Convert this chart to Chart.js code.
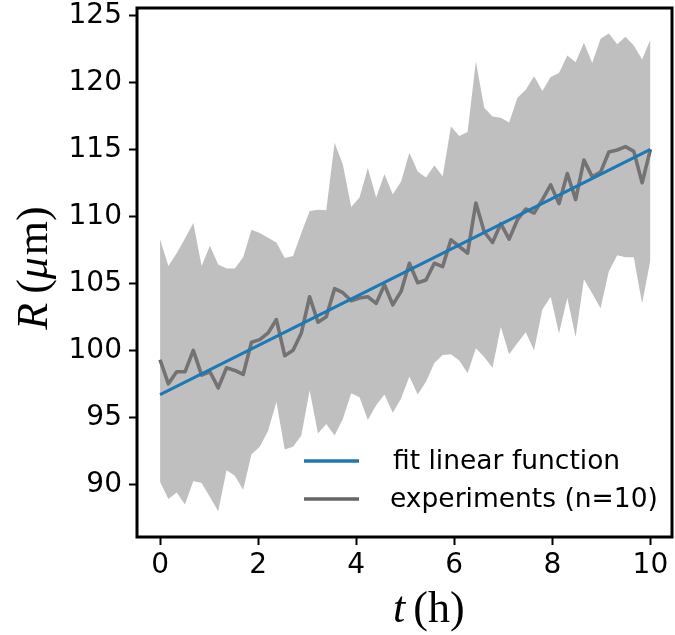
<!DOCTYPE html>
<html>
<head>
<meta charset="utf-8">
<script src="https://cdn.jsdelivr.net/npm/chart.js@4.4.1/dist/chart.umd.min.js"></script>
<style>
  html, body { margin: 0; padding: 0; background: #ffffff; }
  #wrap { width: 675px; height: 635px; }
</style>
</head>
<body>
<div id="wrap"><canvas id="c" width="675" height="635"></canvas></div>
<script>
// ---- data ----
const tTimes = [0, 0.1695, 0.339, 0.5085, 0.678, 0.8475, 1.0169, 1.1864, 1.3559, 1.5254,
  1.6949, 1.8644, 2.0339, 2.2034, 2.3729, 2.5424, 2.7119, 2.8814, 3.0508, 3.2203,
  3.3898, 3.5593, 3.7288, 3.8983, 4.0678, 4.2373, 4.4068, 4.5763, 4.7458, 4.9153,
  5.0847, 5.2542, 5.4237, 5.5932, 5.7627, 5.9322, 6.1017, 6.2712, 6.4407, 6.6102,
  6.7797, 6.9492, 7.1186, 7.2881, 7.4576, 7.6271, 7.7966, 7.9661, 8.1356, 8.3051,
  8.4746, 8.6441, 8.8136, 8.9831, 9.1525, 9.322, 9.4915, 9.661, 9.8305, 10];

const meanR = [99.3, 97.5, 98.4, 98.4, 100.0, 98.15, 98.4, 97.2, 98.7, 98.5,
  98.2, 100.6, 100.8, 101.3, 102.3, 99.6, 100.0, 101.3, 104.0, 102.1,
  102.5, 104.6, 104.3, 103.7, 103.9, 104.0, 103.5, 104.9, 103.4, 104.4,
  106.5, 105.05, 105.25, 106.5, 106.25, 108.25, 107.75, 107.25, 111.0, 108.85,
  108.05, 109.45, 108.3, 109.75, 110.55, 110.25, 111.25, 112.35, 110.95, 113.2,
  111.25, 114.2, 112.95, 113.3, 114.8, 114.95, 115.2, 114.85, 112.5, 115.0];

const upperR = [108.3, 106.3, 107.25, 108.35, 109.5, 106.3, 107.8, 106.4, 106.1, 106.1,
  106.95, 109.0, 108.75, 108.4, 108.05, 106.9, 107.05, 108.75, 110.4, 110.5,
  110.45, 115.5, 113.85, 110.7, 111.4, 113.6, 111.4, 113.15, 111.65, 112.6,
  114.75, 113.35, 112.9, 113.8, 113.0, 116.7, 116.0, 116.3, 121.55, 118.1,
  117.45, 117.35, 117.0, 118.85, 119.45, 120.45, 119.35, 120.4, 120.7, 122.0,
  121.5, 122.95, 121.45, 123.25, 123.65, 122.85, 123.4, 122.75, 121.7, 123.2];

const lowerR = [90.2, 88.9, 89.4, 88.5, 90.25, 90.1, 89.05, 88.0, 91.05, 90.65,
  89.6, 92.25, 92.8, 94.0, 96.15, 92.6, 92.8, 93.65, 97.0, 93.8,
  94.5, 93.65, 94.9, 96.8, 96.5, 94.8, 95.9, 96.7, 95.35, 96.4,
  98.05, 96.7, 97.65, 99.05, 99.65, 99.7, 99.25, 98.3, 100.15, 99.5,
  98.7, 101.75, 99.7, 100.55, 101.35, 100.0, 103.05, 104.0, 101.25, 103.9,
  101.0, 105.3, 104.25, 103.15, 105.9, 107.1, 106.95, 106.95, 103.5, 106.75];

const fitT = [0, 10];
const fitR = [96.7, 115.0];

const xTicks = [0, 2, 4, 6, 8, 10];
const yTicks = [90, 95, 100, 105, 110, 115, 120, 125];

const legendLabels = ['fit linear function', 'experiments (n=10)'];

// ---- helpers ----
const pts = (xs, ys) => xs.map((x, i) => ({ x: x, y: ys[i] }));

const framePlugin = {
  id: 'framePlugin',
  afterDraw(chart) {
    const ctx = chart.ctx;
    const a = chart.chartArea;
    ctx.save();
    // axes box
    ctx.strokeStyle = '#000';
    ctx.lineWidth = 3;
    ctx.strokeRect(a.left, a.top, a.right - a.left, a.bottom - a.top);

    // legend (inside the axes, lower right)
    const colors = ['#1f77b4', '#666666'];
    const rowsY = [a.bottom - 76, a.bottom - 38];
    ctx.font = '26.5px "DejaVu Sans", sans-serif';
    ctx.textBaseline = 'middle';
    ctx.textAlign = 'left';
    ctx.fillStyle = '#000';
    for (let i = 0; i < legendLabels.length; i++) {
      ctx.strokeStyle = colors[i];
      ctx.lineWidth = 3.5;
      ctx.beginPath();
      ctx.moveTo(a.left + 167, rowsY[i]);
      ctx.lineTo(a.left + 222, rowsY[i]);
      ctx.stroke();
      ctx.fillText(legendLabels[i], a.left + (i === 0 ? 256 : 253), rowsY[i] + 1);
    }

    // axis titles with mixed italic / upright pieces
    const size = 44;
    const fam = 'px "Liberation Serif", "DejaVu Serif", serif';
    function draw(parts, gaps) {
      let x = 0;
      parts.forEach((p, k) => {
        ctx.font = (p[1] ? 'italic ' : '') + size + fam;
        ctx.fillText(p[0], x, 0);
        x += ctx.measureText(p[0]).width + (gaps[k] || 0);
      });
      return x;
    }
    function width(parts, gaps) {
      let x = 0;
      parts.forEach((p, k) => {
        ctx.font = (p[1] ? 'italic ' : '') + size + fam;
        x += ctx.measureText(p[0]).width + (gaps[k] || 0);
      });
      return x;
    }
    ctx.fillStyle = '#000';
    ctx.textBaseline = 'alphabetic';
    ctx.textAlign = 'left';

    // x title: t (h)
    const xParts = [['t', true], ['(', false], ['h', false], [')', false]];
    const xGaps = [8, 0, 0, 0];
    ctx.save();
    ctx.translate(393, 622);
    draw(xParts, xGaps);
    ctx.restore();

    // y title: R (μm)
    const yParts = [['R', true], ['(', false], ['μ', true], ['m', false], [')', false]];
    const yGaps = [9, 0, 2, 0, 0];
    const yw = width(yParts, yGaps);
    ctx.save();
    ctx.translate(47, 268 + yw / 2);
    ctx.rotate(-Math.PI / 2);
    draw(yParts, yGaps);
    ctx.restore();

    ctx.restore();
  }
};

const ctx = document.getElementById('c').getContext('2d');
new Chart(ctx, {
  type: 'line',
  data: {
    datasets: [
      {
        label: legendLabels[0],
        data: pts(fitT, fitR),
        borderColor: '#1f77b4',
        borderWidth: 3,
        pointRadius: 0,
        fill: false,
        tension: 0,
        order: 0
      },
      {
        label: 'upper',
        data: pts(tTimes, upperR),
        borderColor: 'rgba(0,0,0,0)',
        borderWidth: 0,
        pointRadius: 0,
        backgroundColor: 'rgba(128,128,128,0.5)',
        fill: '+1',
        tension: 0,
        order: 1
      },
      {
        label: 'lower',
        data: pts(tTimes, lowerR),
        borderColor: 'rgba(0,0,0,0)',
        borderWidth: 0,
        pointRadius: 0,
        fill: false,
        tension: 0,
        order: 1
      },
      {
        label: legendLabels[1],
        data: pts(tTimes, meanR),
        borderColor: '#666666',
        borderWidth: 3.6,
        pointRadius: 0,
        fill: false,
        tension: 0,
        borderJoinStyle: 'round',
        order: 2
      }
    ]
  },
  options: {
    responsive: false,
    animation: false,
    devicePixelRatio: 1,
    layout: { padding: { left: 0, top: 8, right: 3, bottom: 0 } },
    plugins: {
      legend: { display: false },
      tooltip: { enabled: false },
      filler: { propagate: false }
    },
    scales: {
      x: {
        type: 'linear',
        min: -0.47,
        max: 10.44,
        afterBuildTicks: (s) => { s.ticks = xTicks.map(v => ({ value: v })); },
        afterFit: (s) => { s.height = 98; },
        ticks: {
          font: { family: '"DejaVu Sans", sans-serif', size: 28 },
          color: '#000',
          padding: 4,
          maxRotation: 0,
          autoSkip: false,
          callback: (v) => String(v)
        },
        grid: {
          drawOnChartArea: false,
          drawTicks: true,
          tickLength: 8,
          tickWidth: 2,
          tickColor: '#000'
        },
        border: { display: false }
      },
      y: {
        type: 'linear',
        min: 86.07,
        max: 125.55,
        afterBuildTicks: (s) => { s.ticks = yTicks.map(v => ({ value: v })); },
        afterFit: (s) => { s.width = 137; s.paddingTop = 0; s.paddingBottom = 0; },
        ticks: {
          font: { family: '"DejaVu Sans", sans-serif', size: 28 },
          color: '#000',
          padding: 7,
          autoSkip: false,
          callback: (v) => String(v)
        },
        grid: {
          drawOnChartArea: false,
          drawTicks: true,
          tickLength: 8,
          tickWidth: 2,
          tickColor: '#000'
        },
        border: { display: false }
      }
    }
  },
  plugins: [framePlugin]
});
</script>
</body>
</html>
